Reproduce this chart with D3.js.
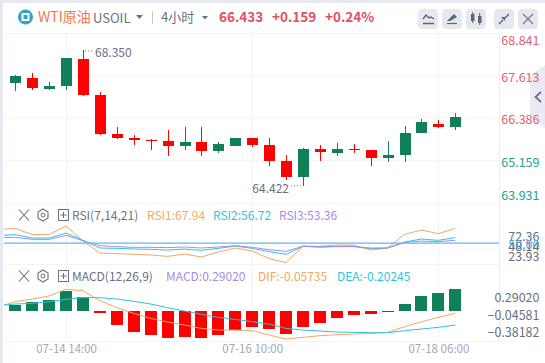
<!DOCTYPE html>
<html>
<head>
<meta charset="utf-8">
<script src="https://d3js.org/d3.v7.min.js"></script>
<style>
html, body { margin: 0; padding: 0; background: #fff; overflow: hidden; }
svg { display: block; font-family: "Noto Sans CJK SC", "Noto Sans", sans-serif; }
</style>
</head>
<body>
<div id="container"></div>
<script>
// WTI 4h candles with RSI and MACD panels

var opens  = [67.416,67.552,67.234,67.329,68.102,67.060,65.932,65.816,65.767,65.729,65.584,65.700,65.440,65.584,65.816,65.613,65.150,64.687,65.498,65.382,65.498,65.469,65.237,65.324,65.961,66.221,66.134];
var highs  = [67.639,67.697,67.437,68.140,68.350,67.147,66.134,65.903,65.778,66.047,66.134,66.134,65.700,65.816,65.816,65.816,65.324,65.526,65.613,65.671,65.642,65.469,65.729,66.163,66.366,66.337,66.539];
var lows   = [67.185,67.214,67.205,67.214,67.031,65.903,65.787,65.613,65.469,65.295,65.469,65.295,65.382,65.584,65.555,65.006,64.600,64.422,65.150,65.295,65.382,65.006,65.121,65.121,65.961,66.105,66.047];
var closes = [67.610,67.272,67.321,68.131,67.060,65.932,65.816,65.758,65.738,65.584,65.700,65.440,65.642,65.816,65.613,65.150,64.687,65.498,65.411,65.498,65.469,65.237,65.324,65.961,66.279,66.134,66.433];

// the line series start one bar before the first candle, cut off by the panel edge
var rsi1 = [66.2,68.0,60.3,60.6,70.8,52.4,37.8,37.0,36.2,35.3,33.7,36.5,32.9,39.0,43.9,40.2,30.9,26.0,46.3,46.0,47.6,47.2,41.4,43.9,60.6,65.9,61.5,67.94];
var rsi2 = [59.2,60.3,56.1,56.1,62.2,53.3,43.9,43.5,42.7,42.3,41.4,42.7,41.1,43.5,46.3,43.5,39.5,36.2,46.0,45.1,46.0,46.0,43.1,43.9,51.2,54.9,53.3,56.72];
var rsi3 = [56.5,57.0,54.5,54.5,59.4,52.9,46.8,45.6,44.7,44.7,44.4,45.1,43.9,45.1,46.8,44.7,41.9,39.8,46.0,45.1,45.6,45.6,43.9,43.9,50.5,52.4,51.7,53.36];

var macdBars = [0.0835,0.1187,0.1451,0.2639,0.1847,-0.0264,-0.1847,-0.277,-0.3166,-0.3562,-0.343,-0.3562,-0.3166,-0.2507,-0.2111,-0.2375,-0.3034,-0.2111,-0.1583,-0.0923,-0.0528,-0.0396,-0.0132,0.0923,0.1979,0.2375,0.2902];
var dif = [0.057,0.123,0.158,0.198,0.286,0.268,0.136,0.044,-0.031,-0.097,-0.145,-0.185,-0.229,-0.251,-0.251,-0.259,-0.317,-0.369,-0.347,-0.325,-0.312,-0.303,-0.295,-0.281,-0.207,-0.141,-0.084,-0.031];
var dea = [0.075,0.092,0.101,0.123,0.154,0.176,0.176,0.158,0.128,0.092,0.044,0,-0.044,-0.084,-0.110,-0.141,-0.172,-0.229,-0.251,-0.264,-0.277,-0.281,-0.286,-0.286,-0.259,-0.237,-0.215,-0.185];

var priceTicks = [68.841,67.613,66.386,65.159,63.931];
var priceDy = [11, 5.5, 5, 5.5, -4];
var rsiTicks = [72.36,50.00,48.14,23.93];
var macdTicks = [0.29020,-0.04581,-0.38182];
var timeLabels = [[3,"07-14 14:00"],[14,"07-16 10:00"],[25,"07-18 06:00"]];

var GREEN = "#0f8058", RED = "#ff0000", ORANGE = "#f7a660", CYAN = "#2cc4e0", PURPLE = "#a78be8";
var GRID = "#f2f3f7", GREY = "#6b7080";

var svg = d3.select("#container").append("svg").attr("width", 545).attr("height", 363);

svg.append("rect").attr("width", 545).attr("height", 363).attr("fill", "#fff");
svg.append("rect").attr("width", 545).attr("height", 3).attr("fill", "#e6e9f0");
svg.append("rect").attr("width", 3).attr("height", 363).attr("fill", "#e6e9f0");

var x = d3.scaleLinear().domain([0, 26]).range([15.3, 455.3]);
var yPrice = d3.scaleLinear().domain([63.931, 68.841]).range([203.3, 33.5]);
var yRsi = d3.scaleLinear().domain([23.93, 72.36]).range([264.3, 224.8]);
var yMacd = d3.scaleLinear().domain([-0.38182, 0.29020]).range([340, 289]);

// grid
[33.5, 76, 118.3, 160.7, 203.5, 264.5, 341.5].forEach(function(y){
    svg.append("line").attr("x1", 4).attr("x2", 500).attr("y1", y).attr("y2", y)
	.attr("stroke", GRID);
});
timeLabels.forEach(function(t){
    svg.append("line").attr("x1", Math.round(x(t[0])) + 0.5).attr("x2", Math.round(x(t[0])) + 0.5)
	.attr("y1", 33).attr("y2", 341).attr("stroke", GRID);
});
svg.append("line").attr("x1", 499.5).attr("x2", 499.5).attr("y1", 33).attr("y2", 341).attr("stroke", "#eceef3");

// collapse tab at the right edge
svg.append("path").attr("d", "M545,65L530,75V118L545,128Z").attr("fill", "#eaebf2");
svg.append("path").attr("d", "M541,92L535.5,97L541,102").attr("fill", "none")
    .attr("stroke", "#6b7080").attr("stroke-width", 1.8);

svg.append("clipPath").attr("id", "panel").append("rect")
    .attr("x", 4).attr("y", 33).attr("width", 495).attr("height", 310);

// candles
var candles = svg.append("g").attr("shape-rendering", "crispEdges");
var up = function(i){ return closes[i] >= opens[i]; };

candles.selectAll(".wick").data(d3.range(opens.length)).enter().append("line")
    .attr("class", "wick")
    .attr("x1", d => Math.round(x(d)) + 0.5).attr("x2", d => Math.round(x(d)) + 0.5)
    .attr("y1", d => yPrice(highs[d])).attr("y2", d => yPrice(lows[d]))
    .attr("stroke", d => up(d) ? GREEN : RED);

candles.selectAll(".body").data(d3.range(opens.length)).enter().append("rect")
    .attr("class", "body")
    .attr("x", d => Math.round(x(d)) - 5)
    .attr("width", 11)
    .attr("y", d => yPrice(Math.max(opens[d], closes[d])))
    .attr("height", d => Math.max(1, Math.abs(yPrice(opens[d]) - yPrice(closes[d]))))
    .attr("fill", d => up(d) ? GREEN : RED);

// high and low callouts
var hiIdx = d3.maxIndex(highs), loIdx = d3.minIndex(lows);
svg.append("line").attr("x1", x(hiIdx) + 2).attr("x2", x(hiIdx) + 11)
    .attr("y1", yPrice(highs[hiIdx]) + 0.5).attr("y2", yPrice(highs[hiIdx]) + 0.5)
    .attr("stroke", "#777c8a").attr("stroke-dasharray", "1 2");
svg.append("text").attr("x", x(hiIdx) + 12).attr("y", yPrice(highs[hiIdx]) + 6.5)
    .attr("font-size", 12).attr("fill", GREY).text(d3.format(".3f")(highs[hiIdx]));
svg.append("line").attr("x1", x(loIdx) - 2).attr("x2", x(loIdx) - 12)
    .attr("y1", yPrice(lows[loIdx]) - 0.5).attr("y2", yPrice(lows[loIdx]) - 0.5)
    .attr("stroke", "#777c8a").attr("stroke-dasharray", "1 2");
svg.append("text").attr("x", x(loIdx) - 14).attr("y", yPrice(lows[loIdx]) + 7)
    .attr("text-anchor", "end").attr("font-size", 12).attr("fill", GREY).text(d3.format(".3f")(lows[loIdx]));

// RSI
function drawLine(values, yScale, color, width){
    var line = d3.line().x((d, i) => x(i - 1)).y(d => yScale(d));
    svg.append("path").datum(values).attr("d", line)
	.attr("clip-path", "url(#panel)")
	.attr("fill", "none").attr("stroke", color).attr("stroke-width", width);
}
drawLine(rsi1, yRsi, ORANGE, 1);
drawLine(rsi2, yRsi, CYAN, 1);
drawLine(rsi3, yRsi, PURPLE, 1);
svg.append("line").attr("x1", 4).attr("x2", 499).attr("y1", yRsi(50)).attr("y2", yRsi(50))
    .attr("stroke", "#64b5f6").attr("stroke-width", 1.2);

// MACD
svg.append("g").attr("shape-rendering", "crispEdges").selectAll("rect")
    .data(macdBars).enter().append("rect")
    .attr("x", (d, i) => Math.round(x(i)) - 6)
    .attr("width", 12)
    .attr("y", d => Math.min(yMacd(d), yMacd(0)))
    .attr("height", d => Math.abs(yMacd(d) - yMacd(0)))
    .attr("fill", d => d >= 0 ? GREEN : RED);
drawLine(dif, yMacd, ORANGE, 1);
drawLine(dea, yMacd, CYAN, 1);

// axes: first and last labels sit inside the panel, as in the original
function rightAxis(scale, ticks, fmt, dyFn, colorFn){
    var g = svg.append("g").attr("transform", "translate(539.5,0)")
	.call(d3.axisRight(scale).tickValues(ticks).tickSize(0).tickFormat(fmt));
    g.select(".domain").remove();
    g.selectAll("text")
	.attr("x", 0).attr("text-anchor", "end")
	.attr("font-family", "\"Noto Sans CJK SC\", \"Noto Sans\", sans-serif")
	.attr("font-size", 12.5)
	.attr("dy", (d, i) => dyFn(d, i))
	.attr("fill", colorFn);
}
rightAxis(yPrice, priceTicks, d3.format(".3f"),
    (d, i) => priceDy[i],
    d => d > 66 ? "#e0606c" : "#1aa58a");
rightAxis(yRsi, rsiTicks, d3.format(".2f"),
    d => (d == 72.36 ? 16 : d == 23.93 ? -3.5 : d == 50 ? 5 : 5.5),
    d => d == 50 ? "#42a5f5" : GREY);
rightAxis(yMacd, macdTicks, d3.format(".5f"),
    d => (d == 0.2902 ? 12.5 : d == -0.38182 ? -4 : 5),
    () => GREY);

var xAxis = svg.append("g").attr("transform", "translate(0,341)")
    .call(d3.axisBottom(x).tickValues(timeLabels.map(t => t[0])).tickSize(0)
	.tickFormat((d, i) => timeLabels[i][1]));
xAxis.select(".domain").remove();
xAxis.selectAll("text")
    .attr("font-family", "\"Noto Sans CJK SC\", \"Noto Sans\", sans-serif")
    .attr("font-size", 11.5).attr("fill", "#a3a7b5").attr("y", 4);

// header
function label(px, py, txt, color, size, weight){
    return svg.append("text").attr("x", px).attr("y", py).text(txt)
	.attr("fill", color).attr("font-size", size).attr("font-weight", weight || 400);
}
svg.append("circle").attr("cx", 25.5).attr("cy", 17).attr("r", 7.5).attr("fill", "#2fa5c8");
svg.append("rect").attr("x", 22.5).attr("y", 14).attr("width", 6).attr("height", 6)
    .attr("fill", "none").attr("stroke", "#fff").attr("stroke-width", 2);
label(38, 21.5, "WTI原油", "#f5774e", 14);
label(93, 23, "USOIL", GREY, 13);
svg.append("path").attr("d", "M136,15h7l-3.5,4z").attr("fill", GREY);
svg.append("line").attr("x1", 152.5).attr("x2", 152.5).attr("y1", 11).attr("y2", 24).attr("stroke", "#c9ccd6");
label(161, 21.5, "4小时", GREY, 13);
svg.append("path").attr("d", "M202,16h6l-3,3.5z").attr("fill", GREY);
label(219, 21.5, "66.433", "#e0505f", 13.5, 700);
label(272, 21.5, "+0.159", "#e0505f", 13.5, 700);
label(325, 21.5, "+0.24%", "#e0505f", 13.5, 700);

// toolbar buttons
var buttonX = [418, 442, 466, 494, 518];
svg.selectAll(".btn").data(buttonX).enter().append("rect").attr("class", "btn")
    .attr("x", d => d).attr("y", 9).attr("width", 20).attr("height", 20).attr("rx", 4)
    .attr("fill", "#e6e8f0");
var ink = svg.append("g").attr("fill", "none").attr("stroke", "#5f6473").attr("stroke-width", 1.4);
ink.append("path").attr("d", "M423,19l3,-4l3,3l2,-1l3,2M423,23.5h11");
ink.append("path").attr("d", "M447,23.5h10").attr("stroke-width", 1.2);
svg.append("path").attr("d", "M447,21l7,-7l3,3l-7,4z").attr("fill", "#5f6473");
svg.append("rect").attr("x", 471).attr("y", 14).attr("width", 3.5).attr("height", 7).attr("fill", "#5f6473");
svg.append("rect").attr("x", 478).attr("y", 16).attr("width", 3.5).attr("height", 7).attr("fill", "#5f6473");
ink.append("path").attr("d", "M472.7,12v11M479.7,13v12").attr("stroke-width", 1);
ink.append("path").attr("d", "M499,24l4,-4M509,14l-4,4");
svg.append("path").attr("d", "M501,17l4,0l0,4z").attr("fill", "#5f6473");
ink.append("path").attr("d", "M523,14l10,10M533,14l-10,10").attr("stroke", "#7a7f8d");

// panel title rows
function panelIcons(cy){
    var g = svg.append("g").attr("fill", "none").attr("stroke", "#6b7080");
    g.append("path").attr("d", `M19,${cy-5.5}l10,11M29,${cy-5.5}l-10,11`).attr("stroke-width", 1.1);
    g.append("path").attr("d", `M43,${cy-6}l5,3v6l-5,3l-5,-3v-6z`).attr("stroke-width", 1.1);
    g.append("circle").attr("cx", 43).attr("cy", cy).attr("r", 2);
    g.append("rect").attr("x", 58.5).attr("y", cy - 5.5).attr("width", 10).attr("height", 11);
    g.append("path").attr("d", `M63.5,${cy-3}v6M60.5,${cy}h6`);
}
panelIcons(215);
label(72, 220, "RSI(7,14,21)", GREY, 12);
label(147, 220, "RSI1:67.94", ORANGE, 12);
label(213, 220, "RSI2:56.72", CYAN, 12);
label(279, 220, "RSI3:53.36", PURPLE, 12);

panelIcons(276);
label(72, 281, "MACD(12,26,9)", GREY, 12);
label(166, 281, "MACD:0.29020", PURPLE, 12);
label(258, 281, "DIF:-0.05735", ORANGE, 12);
label(337, 281, "DEA:-0.20245", CYAN, 12);
</script>
</body>
</html>
